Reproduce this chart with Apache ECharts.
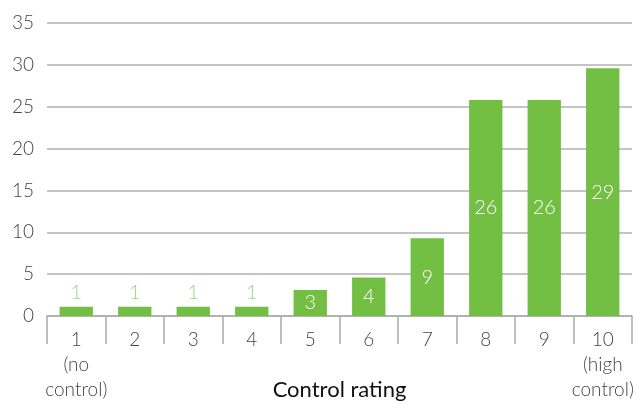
<!DOCTYPE html>
<html>
<head>
<meta charset="utf-8">
<script src="https://cdn.jsdelivr.net/npm/echarts@6/dist/echarts.min.js"></script>
<style>
  html, body { margin: 0; padding: 0; background: #fff; }
  #main { width: 636px; height: 405px; }
</style>
</head>
<body>
<div id="main"></div>
<script>
// data
var ratings = ['1', '2', '3', '4', '5', '6', '7', '8', '9', '10']
var ratingNotes = ['(no\ncontrol)', '', '', '', '', '', '', '', '', '(high\ncontrol)']
var shares = [1.1, 1.1, 1.1, 1.1, 3.1, 4.6, 9.3, 25.8, 25.8, 29.6]
var shareLabels = ['1', '1', '1', '1', '3', '4', '9', '26', '26', '29']
var yTicks = [0, 5, 10, 15, 20, 25, 30, 35]

var font = 'Lato'
var green = '#72bf44'

var barData = shares.map(function (v, i) {
  var item = { value: v }
  // small bars carry their label above, in a pale green
  if (v < 2) {
    item.label = { position: 'top', color: '#9fd67a', distance: 4 }
  }
  return item
})

var chart = echarts.init(document.getElementById('main'))
var option = {
  animation: false,
  grid: { left: 47, right: 4, top: 23, bottom: 89, containLabel: false, outerBoundsMode: 'none' },
  xAxis: {
    type: 'category',
    data: ratings,
    name: 'Control rating',
    nameLocation: 'middle',
    nameGap: 63,
    nameMoveOverlap: false,
    nameTextStyle: { fontFamily: font, fontSize: 22, color: '#111', verticalAlign: 'top' },
    axisLine: { lineStyle: { color: '#aaa', width: 1.5 } },
    axisTick: { show: true, length: 28, lineStyle: { color: '#aaa', width: 1.5 } },
    axisLabel: {
      interval: 0,
      fontFamily: font,
      fontWeight: 300,
      fontSize: 19,
      color: '#444',
      margin: 11,
      lineHeight: 25,
      formatter: function (val, i) {
        return ratingNotes[i] ? val + '\n' + ratingNotes[i] : val
      }
    }
  },
  yAxis: {
    type: 'value',
    min: yTicks[0],
    max: yTicks[yTicks.length - 1],
    interval: 5,
    axisLine: { show: false },
    axisTick: { show: false },
    axisLabel: { fontFamily: font, fontWeight: 300, fontSize: 19, color: '#444', margin: 13 },
    splitLine: { lineStyle: { color: '#b0b0b0', width: 1.5 } }
  },
  series: [
    {
      type: 'bar',
      data: barData,
      barCategoryGap: '43%',
      itemStyle: { color: green },
      label: {
        show: true,
        position: 'inside',
        color: '#fff',
        fontFamily: font,
        fontWeight: 300,
        fontSize: 20,
        formatter: function (p) { return shareLabels[p.dataIndex] }
      }
    }
  ]
}
chart.setOption(option)
</script>
</body>
</html>
